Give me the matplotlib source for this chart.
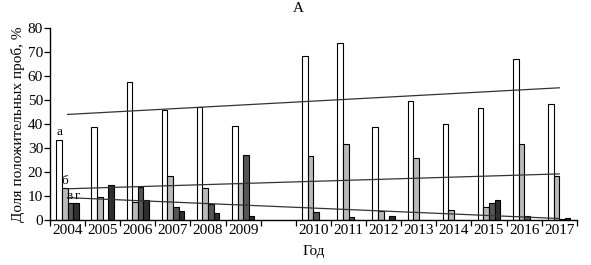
import matplotlib
matplotlib.use("Agg")
import matplotlib.pyplot as plt
from matplotlib.ticker import FixedLocator

plt.rcParams['font.family'] = ['Liberation Serif', 'DejaVu Serif']

years = [2004, 2005, 2006, 2007, 2008, 2009, 2010, 2011, 2012, 2013, 2014, 2015, 2016, 2017]
series_a = [33.5, 38.7, 57.7, 46.0, 47.0, 39.2, 68.4, 73.7, 38.8, 49.4, 40.0, 46.8, 67.0, 48.3]
series_b = [13.3, 9.4, 7.6, 18.2, 13.3, 15.3, 26.8, 31.6, 3.8, 25.7, 4.2, 5.3, 31.6, 18.3]
series_v = [7.0, 0.0, 13.6, 5.5, 6.7, 27.0, 3.2, 1.1, 0.0, 0.0, 0.0, 7.2, 1.8, 0.3]
series_g = [7.0, 14.4, 8.3, 3.9, 2.8, 1.8, 0.0, 0.0, 1.8, 0.0, 0.0, 8.2, 0.0, 0.8]
series_labels = ['а', 'б', 'в', 'г']
# linear trends: value at 2004 and at 2017
trend_start = [44.0, 13.0, 9.3]
trend_end = [55.1, 19.2, 0.6]

colors = ['white', '#b9b9b9', '#555555', '#2e2e2e']

# slot positions: empty slot between 2009 and 2010
pos = [i + (1 if y >= 2010 else 0) for i, y in enumerate(years)]

fig = plt.figure(figsize=(5.91, 2.65), dpi=100)
ax = fig.add_axes([0.0846, 0.170, 0.8914, 0.724])

w = 0.16
all_series = [series_a, series_b, series_v, series_g]
for k, s in enumerate(all_series):
    xs = [p + (k - 1.5) * w for p in pos]
    ax.bar(xs, s, width=w, color=colors[k], edgecolor='black', linewidth=0.8, zorder=2)

# trend lines
for s0, s1 in zip(trend_start, trend_end):
    ax.plot([pos[0], pos[-1]], [s0, s1], color='#333333', linewidth=0.9, zorder=3)

# series letters above first group
offsets = [0.0, 0.0, -0.02, 0.05]
for k, s in enumerate(all_series):
    x = pos[0] + (k - 1.5) * w + offsets[k]
    val = s[0]
    ax.text(x, val + 0.6, series_labels[k], ha='center', va='bottom', fontsize=9.5, zorder=4)

ax.set_xlim(-0.5, 14.5)
ax.set_ylim(0, 80)
ax.set_yticks(range(0, 81, 10))
ax.set_xticks(pos)
ax.set_xticklabels([str(y) for y in years])
ax.xaxis.set_minor_locator(FixedLocator([i - 0.5 for i in range(16)]))
ax.tick_params(axis='x', which='major', length=0, labelsize=11, pad=3)
ax.tick_params(axis='x', which='minor', length=4, width=0.9, direction='out')
ax.tick_params(axis='y', length=4, width=0.9, labelsize=11, pad=1)
for sp in ['top', 'right']:
    ax.spines[sp].set_visible(False)
for sp in ['left', 'bottom']:
    ax.spines[sp].set_linewidth(1.0)

ax.set_ylabel('Доля положительных проб, %', fontsize=11, labelpad=2)
ax.set_xlabel('Год', fontsize=11, labelpad=6)
fig.text(0.505, 0.968, 'А', ha='center', va='center', fontsize=11)

fig.savefig('out.png', dpi=100)
